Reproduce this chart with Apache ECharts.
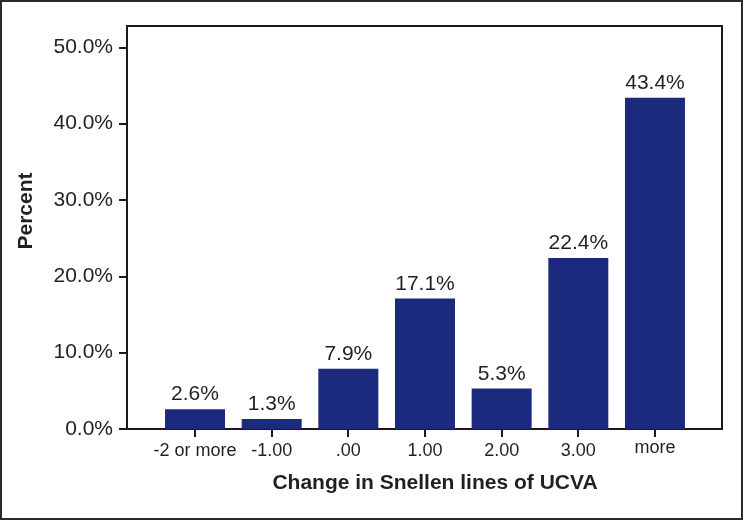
<!DOCTYPE html>
<html>
<head>
<meta charset="utf-8">
<script src="https://cdn.jsdelivr.net/npm/echarts@6/dist/echarts.min.js"></script>
<style>
html,body{margin:0;padding:0;background:#fff;}
#chart{width:743px;height:520px;}
</style>
</head>
<body>
<div id="chart"></div>
<script>
var categories = ['-2 or more', '-1.00', '.00', '1.00', '2.00', '3.00', 'more'];
var percents = [2.6, 1.3, 7.9, 17.1, 5.3, 22.4, 43.4];
var yTicks = [0, 10, 20, 30, 40, 50];
var yTitle = 'Percent';
var xTitle = 'Change in Snellen lines of UCVA';

var FONT = '"Liberation Sans", Arial, sans-serif';
var TXT = '#231f20';
var BAR = '#1b2a7c';
var LINE = '#1a1a1a';
var Y_MAX = 52.8;

var chart = echarts.init(document.getElementById('chart'), null, {renderer: 'canvas'});

chart.setOption({
  animation: false,
  backgroundColor: '#fff',
  grid: [
    {left: 127, right: 21, top: 26, bottom: 91,
     show: true, borderColor: LINE, borderWidth: 2, backgroundColor: 'transparent'},
    {left: 156.7, right: 49.7, top: 26, bottom: 91}
  ],
  xAxis: [
    {gridIndex: 0, type: 'value', min: 0, max: 1, show: false},
    {
      gridIndex: 1, type: 'category', data: categories,
      position: 'bottom',
      axisLine: {show: true, onZero: false, lineStyle: {color: LINE, width: 2}},
      axisTick: {show: false},
      axisLabel: {
        margin: 13, interval: 0,
        fontFamily: FONT, fontSize: 18, color: TXT,
        formatter: function (s) { return s === 'more' ? '{m|' + s + '}' : s; },
        rich: {m: {fontFamily: FONT, fontSize: 18, color: TXT, lineHeight: 12}}
      }
    }
  ],
  yAxis: [
    {
      gridIndex: 0, type: 'value', min: 0, max: Y_MAX,
      splitLine: {show: false},
      axisLine: {show: true, onZero: false, lineStyle: {color: LINE, width: 2}},
      axisTick: {show: true, customValues: yTicks, length: 8, lineStyle: {color: LINE, width: 2}},
      axisLabel: {
        customValues: yTicks,
        margin: 14,
        fontFamily: FONT, fontSize: 21, color: TXT,
        formatter: function (v) { return v.toFixed(1) + '%'; }
      }
    },
    {gridIndex: 1, type: 'value', min: 0, max: Y_MAX, show: false, splitLine: {show: false}}
  ],
  series: [
    {
      type: 'bar',
      xAxisIndex: 1, yAxisIndex: 1,
      barWidth: 60,
      data: percents,
      itemStyle: {color: BAR},
      label: {
        show: true, position: 'top', distance: 4,
        fontFamily: FONT, fontSize: 21, color: TXT,
        formatter: function (p) { return p.value.toFixed(1) + '%'; }
      }
    },
    {
      // category tick marks below the x axis, placed through the axis scale
      type: 'custom',
      xAxisIndex: 1, yAxisIndex: 1,
      silent: true, clip: false, z: 5,
      data: categories.map(function (c, i) { return [i, 0]; }),
      renderItem: function (params, api) {
        var p = api.coord([api.value(0), 0]);
        var x = Math.round(p[0]);
        return {
          type: 'line',
          shape: {x1: x, y1: p[1], x2: x, y2: p[1] + 8},
          style: {stroke: LINE, lineWidth: 2}
        };
      }
    }
  ],
  graphic: [
    {type: 'rect', shape: {x: 1, y: 1, width: 741, height: 518},
     style: {fill: null, stroke: '#2a2a2a', lineWidth: 2}, silent: true},
    {type: 'text', x: 26, y: 211, rotation: Math.PI / 2,
     style: {text: yTitle, font: 'bold 21px ' + FONT, fill: TXT, align: 'center', verticalAlign: 'middle'}},
    {type: 'text', x: 435, y: 483,
     style: {text: xTitle, font: 'bold 21px ' + FONT, fill: TXT, align: 'center', verticalAlign: 'middle'}}
  ]
});
</script>
</body>
</html>
